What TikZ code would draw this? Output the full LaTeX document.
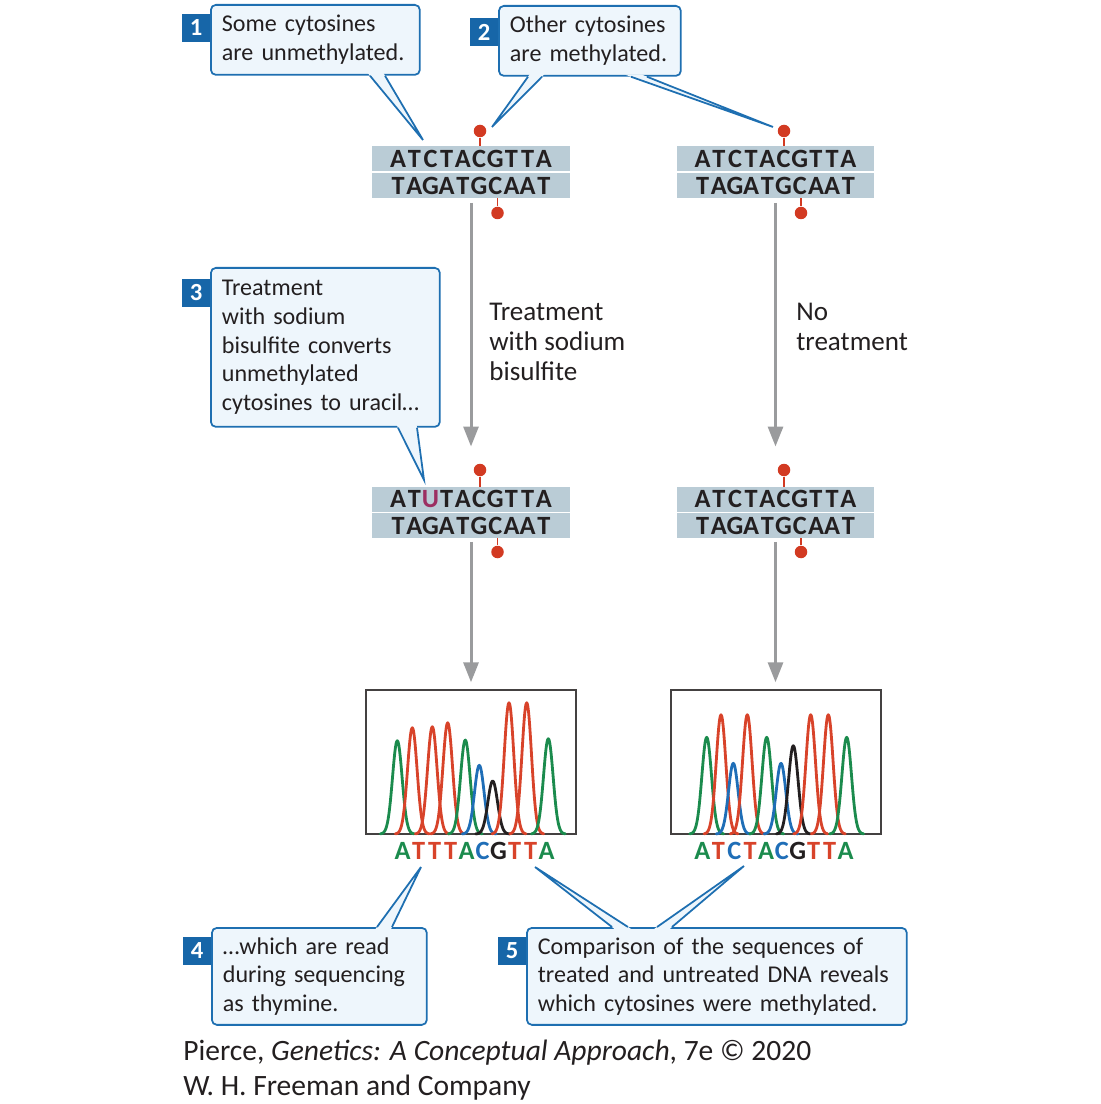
\documentclass[tikz,border=0pt]{standalone}
\usepackage{fontspec}
\setmainfont{Carlito}
\usepackage{tikz}
\usetikzlibrary{positioning, calc, arrows.meta}
\definecolor{callblue}{HTML}{1E6FB1}
\definecolor{callfill}{HTML}{EEF6FC}
\definecolor{badgeblue}{HTML}{1766A8}
\definecolor{dnagray}{HTML}{BACCD6}
\definecolor{methylred}{HTML}{D23A22}
\definecolor{arrowgray}{HTML}{9A9B9D}
\definecolor{inkblack}{HTML}{231F20}
\definecolor{uracil}{HTML}{9C2F62}
\definecolor{baseA}{HTML}{1B8B4D}
\definecolor{baseT}{HTML}{D8432A}
\definecolor{baseC}{HTML}{1F6EB7}
\definecolor{baseG}{HTML}{231F20}
\newcommand{\notefont}{\fontsize{13.7}{16.3}\selectfont\hyphenpenalty=10000 }
\newcommand{\strand}[2]{%
  \foreach \b [count=\i] in {#2}
    \node[nucleo] (#1-\i) at ($(#1.center)+({(\i-5.5)*16.2},0)$) {\b};
}
\newcommand{\calltail}[4]{%
  \coordinate (tailA) at ($(#1)+(#2,0)$);
  \coordinate (tailB) at ($(#1)+(#3,0)$);
  \fill[callfill] ($(tailA)!-0.12cm!(#4)$) -- (#4) -- ($(tailB)!-0.12cm!(#4)$) -- cycle;
  \draw[callline] (tailA) -- (#4) -- (tailB);
}
\tikzset{
    notebox/.style={draw=callblue, fill=callfill, line width=1pt, rounded corners=0.1cm,
      align=left, inner xsep=0.22cm, inner ysep=0, font=\notefont, text=inkblack, anchor=north west},
    callline/.style={draw=callblue, line width=1pt, line join=miter},
    badge/.style={fill=badgeblue, text=white, font=\fontsize{14}{14}\selectfont\bfseries,
      minimum width=0.56cm, minimum height=0.56cm, inner sep=0, outer sep=0},
    dnarow/.style={fill=dnagray, minimum width=3.96cm, minimum height=0.5cm, inner sep=0, outer sep=0},
    nucleo/.style={font=\fontsize{15}{15}\selectfont\bfseries, inner sep=0, text=inkblack},
    methyl/.style={circle, fill=methylred, inner sep=0, minimum size=0.25cm},
    methylstem/.style={draw=methylred, line width=1.1pt},
}

\begin{document}
\begin{tikzpicture}[x=0.02cm, y=-0.02cm]
    \tikzset{
      procarrow/.style={draw=arrowgray, line width=1.7pt, -{Triangle[length=0.4cm, width=0.3cm]}},
      steplabel/.style={font=\fontsize{15.4}{17}\selectfont, align=left, inner sep=0, text=inkblack},
      chromframe/.style={draw=inkblack!85, line width=0.8pt, minimum width=4.2cm, minimum height=2.88cm},
      trace/.style={line width=1.6pt, line join=round, line cap=round},
      credit/.style={font=\fontsize{16.8}{20}\selectfont, inner sep=0, text=inkblack},
    }
    \useasboundingbox (0,0) rectangle (1100,1104);

    % double strands
    \node[dnarow] (dnaA1) at (471,159) {};
    \node[dnarow, below=0.03cm of dnaA1] (dnaA2) {};
    \node[dnarow] (dnaB1) at (775.5,159) {};
    \node[dnarow, below=0.03cm of dnaB1] (dnaB2) {};
    \node[dnarow] (dnaC1) at (471,499) {};
    \node[dnarow, below=0.03cm of dnaC1] (dnaC2) {};
    \node[dnarow] (dnaD1) at (775.5,499) {};
    \node[dnarow, below=0.03cm of dnaD1] (dnaD2) {};
    \strand{dnaA1}{A,T,C,T,A,C,G,T,T,A}
    \strand{dnaA2}{T,A,G,A,T,G,C,A,A,T}
    \strand{dnaB1}{A,T,C,T,A,C,G,T,T,A}
    \strand{dnaB2}{T,A,G,A,T,G,C,A,A,T}
    \strand{dnaC1}{A,T,{\textcolor{uracil}{U}},T,A,C,G,T,T,A}
    \strand{dnaC2}{T,A,G,A,T,G,C,A,A,T}
    \strand{dnaD1}{A,T,C,T,A,C,G,T,T,A}
    \strand{dnaD2}{T,A,G,A,T,G,C,A,A,T}

    % methyl groups
    \node[methyl] (mA1) at (480,131) {};
    \node[methyl] (mA2) at (497.5,213) {};
    \node[methyl] (mB1) at (784,131) {};
    \node[methyl] (mB2) at (801,213) {};
    \node[methyl] (mC1) at (480,470) {};
    \node[methyl] (mC2) at (497.5,552) {};
    \node[methyl] (mD1) at (784,470) {};
    \node[methyl] (mD2) at (801,552) {};
    \foreach \m/\r in {mA1/dnaA1.north, mA2/dnaA2.south, mB1/dnaB1.north, mB2/dnaB2.south,
                       mC1/dnaC1.north, mC2/dnaC2.south, mD1/dnaD1.north, mD2/dnaD2.south}
      \draw[methylstem] (\m) -- (\m |- \r);

    % chromatograms
    \node[chromframe] (chromL) at (471,762) {};
    \node[chromframe] (chromR) at (776,762) {};
    \foreach \c/\t/\b in {397.3/740.7/A, 412.3/727.7/T, 432.3/726.7/T, 447.7/722.7/T, 465.3/740/A,
                          479.3/765.3/C, 492.7/781/G, 509/702.7/T, 526.7/702.7/T, 548.3/738.7/A,
                          706.7/737.3/A, 721/714.7/T, 733.3/763.3/C, 747.3/714.7/T, 766.7/737.3/A,
                          781/763.3/C, 793.3/745.7/G, 810.7/714.7/T, 828.3/714.7/T, 846.7/737.3/A}
      \draw[trace, draw=base\b] plot[domain=\c-17:\c+17, samples=45, smooth]
        (\x, {834-(834-\t)*exp(-((\x-\c)*(\x-\c))/46)});
    \foreach \b [count=\i] in {A,T,T,T,A,C,G,T,T,A}
      \node[nucleo, text=base\b] (readL-\i) at ({474.6+(\i-5.5)*16},851) {\b};
    \foreach \b [count=\i] in {A,T,C,T,A,C,G,T,T,A}
      \node[nucleo, text=base\b] (readR-\i) at ({774+(\i-5.5)*15.9},851) {\b};

    % process arrows
    \draw[procarrow, shorten <=0.1cm, shorten >=0.8cm] (dnaA2) -- (dnaC1);
    \draw[procarrow, shorten <=0.1cm, shorten >=0.8cm] (dnaB2) -- (dnaD1);
    \draw[procarrow, shorten <=0.08cm, shorten >=0.14cm] (dnaC2) -- (chromL.north -| dnaC2);
    \draw[procarrow, shorten <=0.08cm, shorten >=0.14cm] (dnaD2) -- (chromR.north -| dnaD2);
    \node[steplabel, anchor=west] (treatlbl) at (489,342) {Treatment\\with sodium\\bisulfite};
    \node[steplabel, anchor=west] (notreatlbl) at (796,327) {No\\treatment};

    % callouts
    \node[notebox, text width=3.74cm, minimum height=1.4cm] (note1) at (210,4) {Some cytosines\\are unmethylated.};
    \node[badge, below left=0.2cm and 0cm of note1.north west] (num1) {1};
    \coordinate (tip1) at (423,140);
    \calltail{note1.south west}{160}{175}{tip1}

    \node[notebox, text width=3.2cm, minimum height=1.4cm] (note2) at (498,5) {Other cytosines\\are methylated.};
    \node[badge, below left=0.26cm and 0cm of note2.north west] (num2) {2};
    \coordinate (tip2a) at (492,127);
    \coordinate (tip2b) at (773,127);
    \calltail{note2.south west}{30}{44}{tip2a}
    \calltail{note2.south west}{133}{149}{tip2b}

    \node[notebox, text width=4.14cm, minimum height=3.18cm] (note3) at (210,267)
      {Treatment\\with sodium\\bisulfite converts\\unmethylated\\cytosines to uracil…};
    \node[badge, below left=0.24cm and 0cm of note3.north west] (num3) {3};
    \coordinate (tip3) at (424,480);
    \calltail{note3.south west}{188}{207}{tip3}

    \node[notebox, text width=3.86cm, minimum height=1.94cm] (note4) at (211,927)
      {…which are read\\during sequencing\\as thymine.};
    \node[badge, below left=0.2cm and 0cm of note4.north west] (num4) {4};
    \coordinate (tip4) at (421,867);
    \calltail{note4.north west}{166}{181}{tip4}

    \node[notebox, text width=7.16cm, minimum height=1.94cm] (note5) at (526,927)
      {Comparison of the sequences of\\treated and untreated DNA reveals\\which cytosines were methylated.};
    \node[badge, below left=0.2cm and 0cm of note5.north west] (num5) {5};
    \coordinate (tip5a) at (535,867);
    \coordinate (tip5b) at (744,866);
    \calltail{note5.north west}{86}{102}{tip5a}
    \calltail{note5.north west}{131}{146}{tip5b}

    % credit line
    \node[credit, anchor=base west] (credit1) at (183,1060) {Pierce, \textit{Genetics: A Conceptual Approach}, 7e © 2020};
    \node[credit, anchor=base west] (credit2) at ($(credit1.base west)+(0,35)$) {W. H. Freeman and Company};
\end{tikzpicture}
\end{document}
